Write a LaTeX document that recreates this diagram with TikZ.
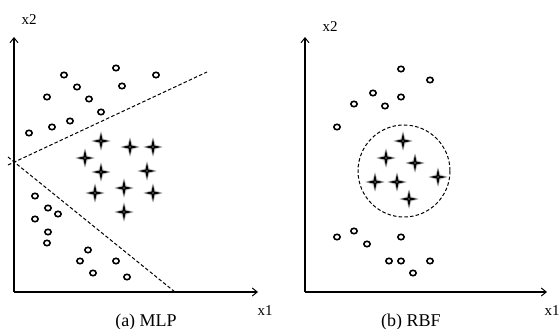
\documentclass[tikz,border=0pt]{standalone}
\usepackage{fontspec}
\setmainfont{Liberation Serif}
\usetikzlibrary{arrows.meta}
\tikzset{
  axis/.style={line width=1.1pt, -{Straight Barb[length=5pt,width=8pt,line width=1pt]}},
  sep/.style={line width=1pt, dash pattern=on 3.5pt off 2.2pt},
  lbl/.style={inner sep=0pt, font=\fontsize{15}{17}\selectfont},
  captext/.style={inner sep=0pt, font=\fontsize{18}{20}\selectfont},
  dot/.style={line width=1.6pt, black},
  star4/.pic={
    \fill[black!25] (0,-10) -- (2.4,-2.4) -- (10,0) -- (2.4,2.4) -- (0,10) -- (-2.4,2.4) -- (-10,0) -- (-2.4,-2.4) -- cycle;
    \fill[black] (0,-8.5) -- (1.4,-1.4) -- (8.5,0) -- (1.4,1.4) -- (0,8.5) -- (-1.4,1.4) -- (-8.5,0) -- (-1.4,-1.4) -- cycle;
    \fill[white] (0,0) circle (0.7);
  }
}
\newcommand{\dotat}[2]{\draw[dot] (#1,#2) ellipse (3.2 and 2.7);}
\begin{document}
\begin{tikzpicture}[x=1pt,y=-1pt]
\useasboundingbox (0,0) rectangle (560,329);
% ---------- (a) MLP ----------
\coordinate (aO) at (14,292);
\coordinate (aY) at (14,37);
\coordinate (aX) at (258,292);
\draw[axis] (aO) -- (aY);
\draw[axis] (aO) -- (aX);
\node[lbl] (ax2) at (29,20) {x2};
\node[lbl] (ax1) at (265,311) {x1};
\node[captext] (acap) at (146,322) {(a) MLP};
\coordinate (l1a) at (8,165);
\coordinate (l1b) at (207,72);
\coordinate (l2a) at (8,157);
\coordinate (l2b) at (175,292);
\draw[sep] (l1a) -- (l1b);
\draw[sep] (l2a) -- (l2b);
\foreach \x/\y in {64/75,116/68,156/75,77/87,122/86,47/97,89/99,101/112,29/133,52/127,70/121,
                   35/196,48/208,58/214,35/219,48/232,47/243,88/250,80/261,116/261,93/273,127/277}
  {\dotat{\x}{\y}}
\foreach \x/\y in {85/158,101/141,130/147,153/147,101/172,147/171,95/193,124/188,153/193,124/212}
  {\pic at (\x,\y) {star4};}
% ---------- (b) RBF ----------
\coordinate (bO) at (305,292);
\coordinate (bY) at (305,37);
\coordinate (bX) at (547,292);
\draw[axis] (bO) -- (bY);
\draw[axis] (bO) -- (bX);
\node[lbl] (bx2) at (330,27) {x2};
\node[lbl] (bx1) at (552,311) {x1};
\node[captext] (bcap) at (411,322) {(b) RBF};
\coordinate (cc) at (404,171);
\draw[sep] (cc) circle (46);
\foreach \x/\y in {401/69,430/80,373/93,354/104,385/106,401/97,337/127,
                   337/237,354/231,367/244,401/237,389/261,401/261,430/261,413/273}
  {\dotat{\x}{\y}}
\foreach \x/\y in {403/141,386/158,415/163,375/182,397/182,438/177,409/199}
  {\pic at (\x,\y) {star4};}
\end{tikzpicture}
\end{document}
